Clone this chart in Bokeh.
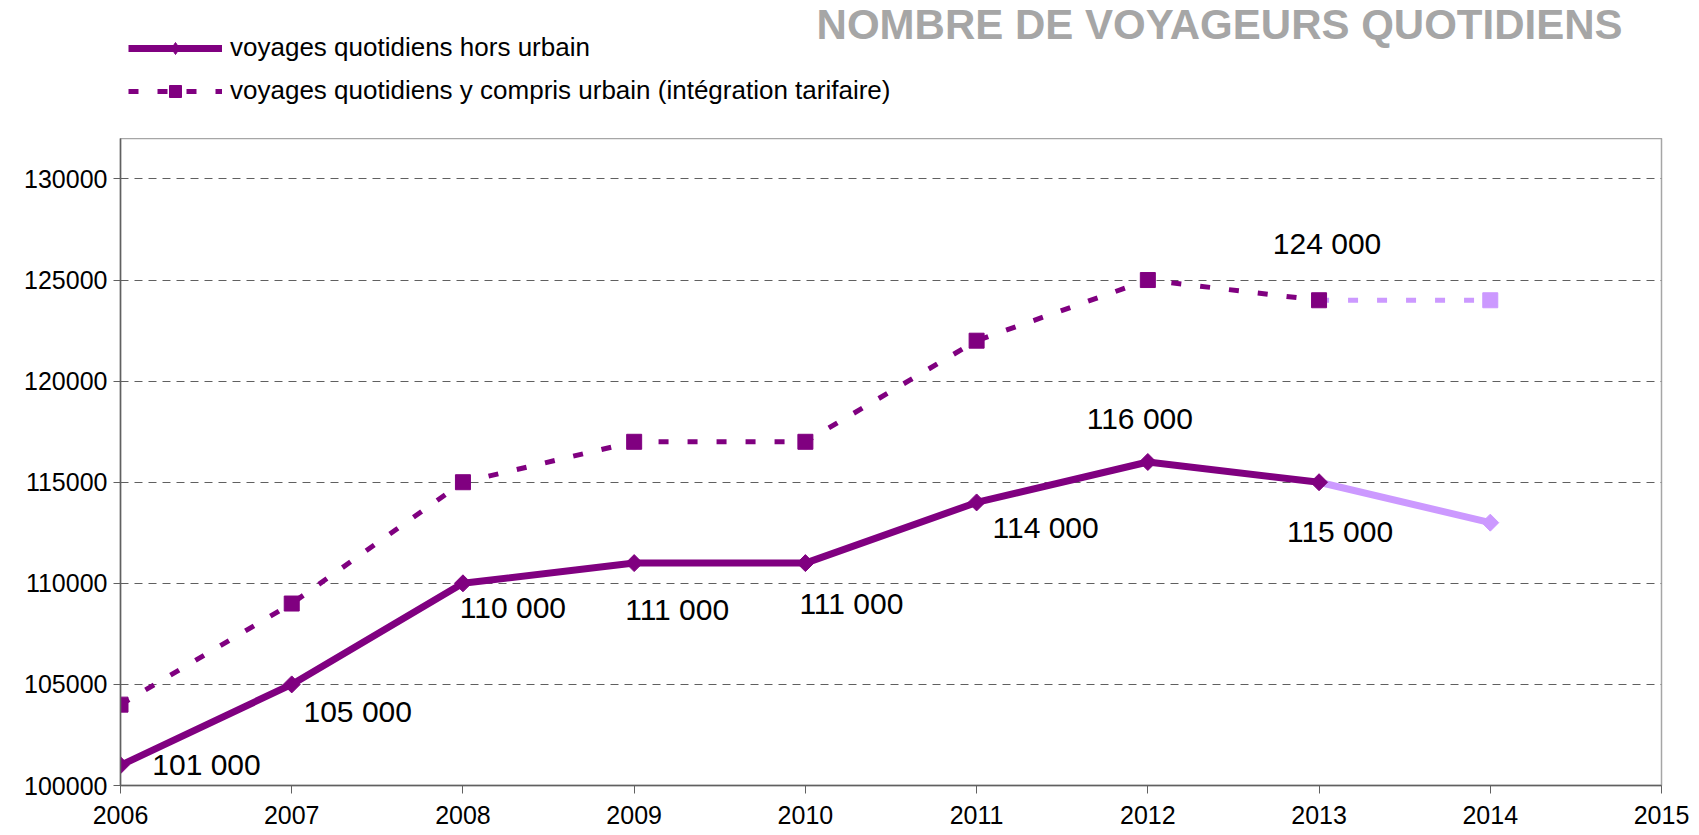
from bokeh.plotting import figure
from bokeh.layouts import column
from bokeh.models import (Range1d, FixedTicker, Legend, LegendItem, Label,
                          ColumnDataSource, BasicTickFormatter)
from bokeh.embed import file_html
from bokeh.resources import INLINE
from bokeh.core.properties import value

# ---------------- data ----------------
years = [2006, 2007, 2008, 2009, 2010, 2011, 2012, 2013, 2014]
hors_urbain = [101000, 105000, 110000, 111000, 111000, 114000, 116000, 115000, 113000]
y_compris_urbain = [104000, 109000, 115000, 117000, 117000, 122000, 125000, 124000, 124000]
x_ticks = [2006, 2007, 2008, 2009, 2010, 2011, 2012, 2013, 2014, 2015]
y_ticks = [100000, 105000, 110000, 115000, 120000, 125000, 130000]
series_names = ["voyages quotidiens hors urbain",
                "voyages quotidiens y compris urbain (intégration tarifaire)"]
title_text = "NOMBRE DE VOYAGEURS QUOTIDIENS"
n_dark = 8  # points 2006..2013 in dark colour, 2013..2014 in light colour

# label placement (pixel offsets, style only)
lab1_dx = [86, 66, 50, 43, 46, 69, -8, 21]
lab1_dy = [-1, 27, 24, 46, 40, 25, -44, 49]
lab2_dx = [8]
lab2_dy = [-57]

DARK = "#800080"
LIGHT = "#CC99FF"
FONT = "Liberation Sans"
NAN = float("nan")
BORDER_L, BORDER_R = 120, 38
DIAM_ANGLE = 0.785398
DIAM = 12      # rotated square in chart
DIAM_LEG = 19  # diamond in legend
SQ = 15


def fmt(v):
    return f"{v:,}".replace(",", " ")


# ---------------- header (legend + title) ----------------
head = figure(width=1699, height=138, output_backend="svg", toolbar_location=None,
              x_range=Range1d(0, 1), y_range=Range1d(0, 1),
              min_border_left=BORDER_L, min_border_right=BORDER_R, min_border_top=0,
              min_border_bottom=0)
head.axis.visible = False
head.grid.visible = False
head.outline_line_color = None
head.background_fill_color = "white"
head.border_fill_color = "white"

# legend-only renderers (no visible data)
h1 = head.line(x=[NAN], y=[NAN], line_color=DARK, line_width=7)
hm1 = head.scatter(x=[NAN], y=[NAN], marker="diamond", size=DIAM_LEG,
                   fill_color=DARK, line_color=DARK)
h2 = head.line(x=[NAN], y=[NAN], line_color=DARK, line_width=5, line_dash="10 19")
hm2 = head.scatter(x=[NAN], y=[NAN], marker="square", size=SQ, fill_color=DARK,
                   line_color=DARK)

legend = Legend(items=[LegendItem(label=series_names[0], renderers=[h1, hm1]),
                       LegendItem(label=series_names[1], renderers=[h2, hm2])],
                location=(8, 32), orientation="vertical",
                label_text_font=FONT, label_text_font_size="26px",
                label_text_color="black", glyph_width=94, glyph_height=30,
                label_height=30, spacing=12, padding=0, margin=0,
                label_standoff=8, background_fill_alpha=0, border_line_alpha=0)
head.add_layout(legend, "center")

head.add_layout(Label(x=1502, y=114, x_units="screen", y_units="screen", text=title_text,
                      text_font=FONT, text_font_size="42px", text_font_style="bold",
                      text_color="#A6A6A6", text_align="right", text_baseline="middle"))

# ---------------- main chart ----------------
p = figure(width=1699, height=697, output_backend="svg", toolbar_location=None,
           x_range=Range1d(2006, 2015), y_range=Range1d(100000, 132000),
           min_border_left=BORDER_L, min_border_right=BORDER_R, min_border_top=0,
           min_border_bottom=50)
p.background_fill_color = "white"
p.border_fill_color = "white"
p.outline_line_color = "#A6A6A6"
p.outline_line_width = 1.5

p.xaxis.ticker = FixedTicker(ticks=x_ticks)
p.yaxis.ticker = FixedTicker(ticks=y_ticks)
p.yaxis.formatter = BasicTickFormatter(use_scientific=False)
for ax in (p.xaxis, p.yaxis):
    ax.axis_line_color = "#606060"
    ax.axis_line_width = 1.5
    ax.major_tick_line_color = "#606060"
    ax.major_tick_line_width = 1
    ax.minor_tick_line_color = None
    ax.major_label_text_font = FONT
    ax.major_label_text_font_size = "25px"
    ax.major_label_text_color = "black"
p.xaxis.major_tick_in = 0
p.xaxis.major_tick_out = 8
p.xaxis.major_label_standoff = 12
p.yaxis.major_tick_in = 7
p.yaxis.major_tick_out = 7
p.yaxis.major_label_standoff = 6

p.xgrid.grid_line_color = None
p.ygrid.grid_line_color = "#606060"
p.ygrid.grid_line_dash = "8 6"
p.ygrid.grid_line_width = 1

# light (estimated) segments 2013-2014
p.line(years[n_dark - 1:], hors_urbain[n_dark - 1:], line_color=LIGHT, line_width=7)
p.line(years[n_dark - 1:], y_compris_urbain[n_dark - 1:], line_color=LIGHT,
       line_width=5, line_dash="10 19")
p.scatter(years[n_dark:], hors_urbain[n_dark:], marker="square", angle=DIAM_ANGLE,
          size=DIAM, fill_color=LIGHT, line_color=LIGHT)
p.scatter(years[n_dark:], y_compris_urbain[n_dark:], marker="square", size=SQ,
          fill_color=LIGHT, line_color=LIGHT)

# dark series
p.line(years[:n_dark], hors_urbain[:n_dark], line_color=DARK, line_width=7)
p.scatter(years[:n_dark], hors_urbain[:n_dark], marker="square", angle=DIAM_ANGLE,
          size=DIAM, fill_color=DARK, line_color=DARK)
p.line(years[:n_dark], y_compris_urbain[:n_dark], line_color=DARK, line_width=5,
       line_dash="10 19")
p.scatter(years[:n_dark], y_compris_urbain[:n_dark], marker="square", size=SQ,
          fill_color=DARK, line_color=DARK)

# data labels
src1 = ColumnDataSource(dict(x=years[:n_dark], y=hors_urbain[:n_dark],
                             t=[fmt(v) for v in hors_urbain[:n_dark]],
                             dx=lab1_dx, dy=lab1_dy))
p.text("x", "y", text="t", x_offset="dx", y_offset="dy", source=src1,
       text_font=value(FONT), text_font_size="30px", text_color="black",
       text_align="center", text_baseline="middle")
src2 = ColumnDataSource(dict(x=[years[n_dark - 1]], y=[y_compris_urbain[n_dark - 1]],
                             t=[fmt(y_compris_urbain[n_dark - 1])],
                             dx=lab2_dx, dy=lab2_dy))
p.text("x", "y", text="t", x_offset="dx", y_offset="dy", source=src2,
       text_font=value(FONT), text_font_size="30px", text_color="black",
       text_align="center", text_baseline="middle")

layout = column(head, p, spacing=0)
open("out.html", "w").write(file_html(layout, INLINE))
